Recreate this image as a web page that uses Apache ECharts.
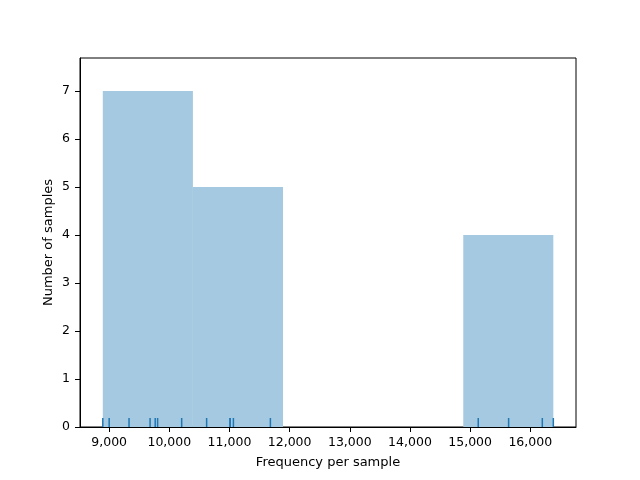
<!DOCTYPE html>
<html><head><meta charset="utf-8">
<script src="https://cdn.jsdelivr.net/npm/echarts@6/dist/echarts.min.js"></script>
<style>html,body{margin:0;padding:0;background:#fff}#c{width:640px;height:480px}</style>
</head><body><div id="c"></div>
<script>
// Histogram bin edges and counts
const binEdges = [8894, 10392, 11890, 13388, 14886, 16383];
const binCounts = [7, 5, 0, 0, 4];
// Individual sample values (rug ticks)
const samples = [8894, 9000, 9330, 9680, 9765, 9805, 10205, 10620, 11010, 11010, 11065, 11680, 15135, 15640, 16200, 16383];
// Tick labels
const xTicks = [9000, 10000, 11000, 12000, 13000, 14000, 15000, 16000];
const yTicks = [0, 1, 2, 3, 4, 5, 6, 7];

const histData = binCounts.map((c, i) => [binEdges[i], binEdges[i + 1], c]);
const font = 'DejaVu Sans';
const chart = echarts.init(document.getElementById('c'));
chart.setOption({
  animation: false,
  backgroundColor: '#fff',
  grid: { left: 80, right: 64, top: 58, bottom: 53, show: true, borderColor: '#000', borderWidth: 1, backgroundColor: 'transparent' },
  xAxis: {
    type: 'value', min: 8515, max: 16760,
    name: 'Frequency per sample', nameLocation: 'middle', nameGap: 29,
    nameTextStyle: { fontFamily: font, fontSize: 13, color: '#000' },
    axisLine: { show: true, lineStyle: { color: '#000', width: 1 } },
    axisTick: { show: true, inside: false, length: 5, lineStyle: { color: '#000' }, customValues: xTicks },
    axisLabel: { fontFamily: font, fontSize: 12.5, color: '#000', margin: 9, customValues: xTicks,
      formatter: v => v.toLocaleString('en-US') },
    splitLine: { show: false }
  },
  yAxis: {
    type: 'value', min: 0, max: 7.69,
    name: 'Number of samples', nameLocation: 'middle', nameGap: 25, nameMoveOverlap: false,
    nameTextStyle: { fontFamily: font, fontSize: 13, color: '#000' },
    axisLine: { show: true, lineStyle: { color: '#000', width: 1 } },
    axisTick: { show: true, inside: false, length: 5, lineStyle: { color: '#000' }, customValues: yTicks },
    axisLabel: { fontFamily: font, fontSize: 12.5, color: '#000', margin: 10, customValues: yTicks },
    splitLine: { show: false }
  },
  series: [
    {
      type: 'custom',
      data: histData,
      renderItem: function (params, api) {
        const p0 = api.coord([api.value(0), 0]);
        const p1 = api.coord([api.value(1), api.value(2)]);
        return { type: 'rect', shape: { x: p0[0], y: p1[1], width: p1[0] - p0[0], height: p0[1] - p1[1] },
          style: { fill: '#a5c9e1' } };
      },
      z: 1
    },
    {
      type: 'custom',
      data: samples.map(v => [v, 0]),
      renderItem: function (params, api) {
        const p = api.coord([api.value(0), 0]);
        return { type: 'line', shape: { x1: p[0], y1: p[1], x2: p[0], y2: p[1] - 9 },
          style: { stroke: '#1f77b4', lineWidth: 1.5 } };
      },
      z: 2
    }
  ]
});
</script></body></html>
